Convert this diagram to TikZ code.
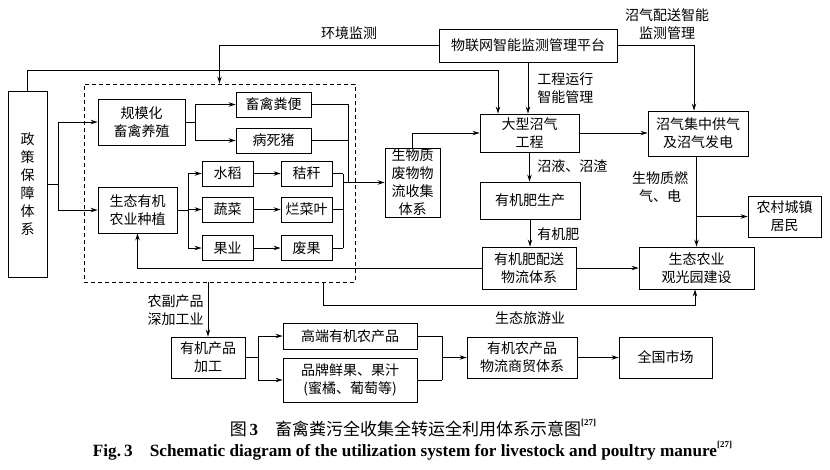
\documentclass[tikz,border=0pt]{standalone}
\usepackage{fontspec}
\setmainfont{Liberation Serif}
\newfontfamily\cjk{Noto Sans CJK SC}
\usetikzlibrary{arrows.meta}
\begin{document}
\begin{tikzpicture}[x=1pt,y=-1pt,
  line width=0.9pt,
  box/.style={draw, line width=0.9pt, align=center, inner sep=1pt, font=\cjk\fontsize{14}{18}\selectfont},
  lbl/.style={align=center, inner sep=0pt, font=\cjk\fontsize{14}{18}\selectfont},
  arr/.style={-{Stealth[length=7pt,width=4.5pt]}},
  grpbox/.style={draw, line width=0.9pt, dash pattern=on 4pt off 3pt, inner sep=0pt}
]
\useasboundingbox (0,0) rectangle (830,469);
% group
\node[grpbox, minimum width=271pt, minimum height=198pt] (grp) at (219.5,183) {};
% nodes
\node[box, minimum width=39pt, minimum height=186pt] (policy) at (27.5,184) {政\\策\\保\\障\\体\\系};
\node[box, minimum width=87pt, minimum height=46pt] (scale) at (141.5,122) {规模化\\畜禽养殖};
\node[box, minimum width=75pt, minimum height=25pt] (feces) at (273.5,104.5) {畜禽粪便};
\node[box, minimum width=75pt, minimum height=25pt] (dead) at (273.5,140.5) {病死猪};
\node[box, minimum width=79pt, minimum height=46pt] (eco2) at (137.5,210) {生态有机\\农业种植};
\node[box, minimum width=51pt, minimum height=25pt] (rice) at (227.5,173.5) {水稻};
\node[box, minimum width=51pt, minimum height=25pt] (straw) at (306.5,173.5) {秸秆};
\node[box, minimum width=51pt, minimum height=25pt] (veg) at (227.5,209.5) {蔬菜};
\node[box, minimum width=51pt, minimum height=25pt] (leaf) at (306.5,209.5) {烂菜叶};
\node[box, minimum width=51pt, minimum height=25pt] (fruit) at (227.5,248) {果业};
\node[box, minimum width=51pt, minimum height=25pt] (waste) at (306.5,248) {废果};
\node[box, minimum width=55pt, minimum height=69pt] (bio) at (412.5,182.5) {生物质\\废物物\\流收集\\体系};
\node[box, minimum width=178pt, minimum height=33pt] (iot) at (528,45.5) {物联网智能监测管理平台};
\node[box, minimum width=99pt, minimum height=38pt] (big) at (529.5,133) {大型沼气\\工程};
\node[box, minimum width=100pt, minimum height=37pt] (fert) at (530,200.5) {有机肥生产};
\node[box, minimum width=94pt, minimum height=42pt] (dist) at (529,268) {有机肥配送\\物流体系};
\node[box, minimum width=100pt, minimum height=45pt] (gas) at (698,133.5) {沼气集中供气\\及沼气发电};
\node[box, minimum width=73pt, minimum height=41pt] (village) at (784.5,216.5) {农村城镇\\居民};
\node[box, minimum width=115pt, minimum height=42pt] (eco) at (696.5,268) {生态农业\\观光园建设};
\node[box, minimum width=74pt, minimum height=41pt] (proc) at (208,357.5) {有机产品\\加工};
\node[box, minimum width=134pt, minimum height=26pt] (high) at (350,336) {高端有机农产品};
\node[box, minimum width=134pt, minimum height=44pt] (brand) at (350,380) {品牌鲜果、果汁\\(蜜橘、葡萄等)};
\node[box, minimum width=110pt, minimum height=41pt] (trade) at (522,357.5) {有机农产品\\物流商贸体系};
\node[box, minimum width=93pt, minimum height=41pt] (market) at (665.5,357.5) {全国市场};
% labels
\node[lbl] (l1) at (349,33) {环境监测};
\node[lbl] (l2) at (667,24) {沼气配送智能\\监测管理};
\node[lbl, anchor=west, align=left] (l3) at (537,88) {工程运行\\智能管理};
\node[lbl, anchor=west] (l4) at (537,166) {沼液、沼渣};
\node[lbl, anchor=west] (l5) at (537,234) {有机肥};
\node[lbl] (l6) at (660,187) {生物质燃\\气、电};
\node[lbl, anchor=east, align=left] (l7) at (204,310) {农副产品\\深加工业};
\node[lbl] (l8) at (530,318) {生态旅游业};
% connectors
\draw[arr] (policy.north) -- ++(0,-20) -| ([xshift=-31.5]big.north);
\draw[arr] (iot.west) -| (grp.north);
\draw[arr] (iot.east) -| ([xshift=-4]gas.north);
\draw[arr] (iot.south) -- (iot.south |- big.north);
\draw[arr] (bio.north) |- (big.west);
\draw[arr] (big.east) -- (big.east -| gas.west);
\draw[arr] (big.south) -- (big.south |- fert.north);
\draw[arr] (fert.south) -- (fert.south |- dist.north);
\draw[arr] (dist.east) -- (eco.west);
\draw[arr] ([xshift=-1.5]gas.south) -- ([xshift=-1.5]gas.south |- eco.north);
\draw[arr] ([xshift=-1.5]gas.south |- village.west) -- (village.west);
\draw[arr] (dist.west) -| (eco2.south);
\draw[arr] (grp.south -| proc.north) -- (proc.north);
\draw[arr] ([xshift=103.5]grp.south) -- ++(0,23) -| ([xshift=-1.5]eco.south);
% policy branches
\draw (policy.east) -- ++(11,0) coordinate (pj);
\draw[arr] (pj) |- (scale.west);
\draw[arr] (pj) |- (eco2.west);
% livestock branches
\draw (scale.east) -- ++(10,0) coordinate (sj);
\draw[arr] (sj) |- (feces.west);
\draw[arr] (sj) |- (dead.west);
% crop branches
\draw (eco2.east) -- ++(11,0) coordinate (ej);
\draw[arr] (ej) |- (rice.west);
\draw[arr] (ej) |- (veg.west);
\draw[arr] (ej) |- (fruit.west);
\draw[arr] (rice.east) -- (straw.west);
\draw[arr] (veg.east) -- (leaf.west);
\draw[arr] (fruit.east) -- (waste.west);
% collectors
\draw (straw.east) -- ++(11,0) coordinate (c1);
\draw (waste.east) -- ++(11,0) coordinate (c3);
\draw (c1) -- (c3);
\draw (leaf.east) -- (leaf.east -| c1);
\draw (feces.east) -- ++(37,0) coordinate (c4) -- (c4 |- bio.west);
\draw (dead.east) -- (dead.east -| c4);
\draw[arr] (c1 |- bio.west) -- (bio.west);
% bottom chain
\draw (proc.east) -- ++(13,0) coordinate (pj2);
\draw[arr] (pj2) |- (high.west);
\draw[arr] (pj2) |- (brand.west);
\draw (high.east) -- ++(25,0) coordinate (m1);
\draw (brand.east) -- (brand.east -| m1);
\draw (m1) -- (m1 |- brand.east);
\draw[arr] (m1 |- trade.west) -- (trade.west);
\draw[arr] (trade.east) -- (market.west);
% captions
\node[inner sep=0pt, font=\cjk\fontsize{17}{18}\selectfont] (cap1) at (413,428) {图\,{\rmfamily\bfseries 3}\quad 畜禽粪污全收集全转运全利用体系示意图\raisebox{1.1ex}{\rmfamily\bfseries\fontsize{9}{9}\selectfont[27]}};
\node[inner sep=0pt, font=\bfseries\fontsize{17.2}{18}\selectfont] (cap2) at (412.5,451) {Fig.\,3\quad Schematic diagram of the utilization system for livestock and poultry manure\raisebox{1.1ex}{\fontsize{9}{9}\selectfont[27]}};
\end{tikzpicture}
\end{document}
